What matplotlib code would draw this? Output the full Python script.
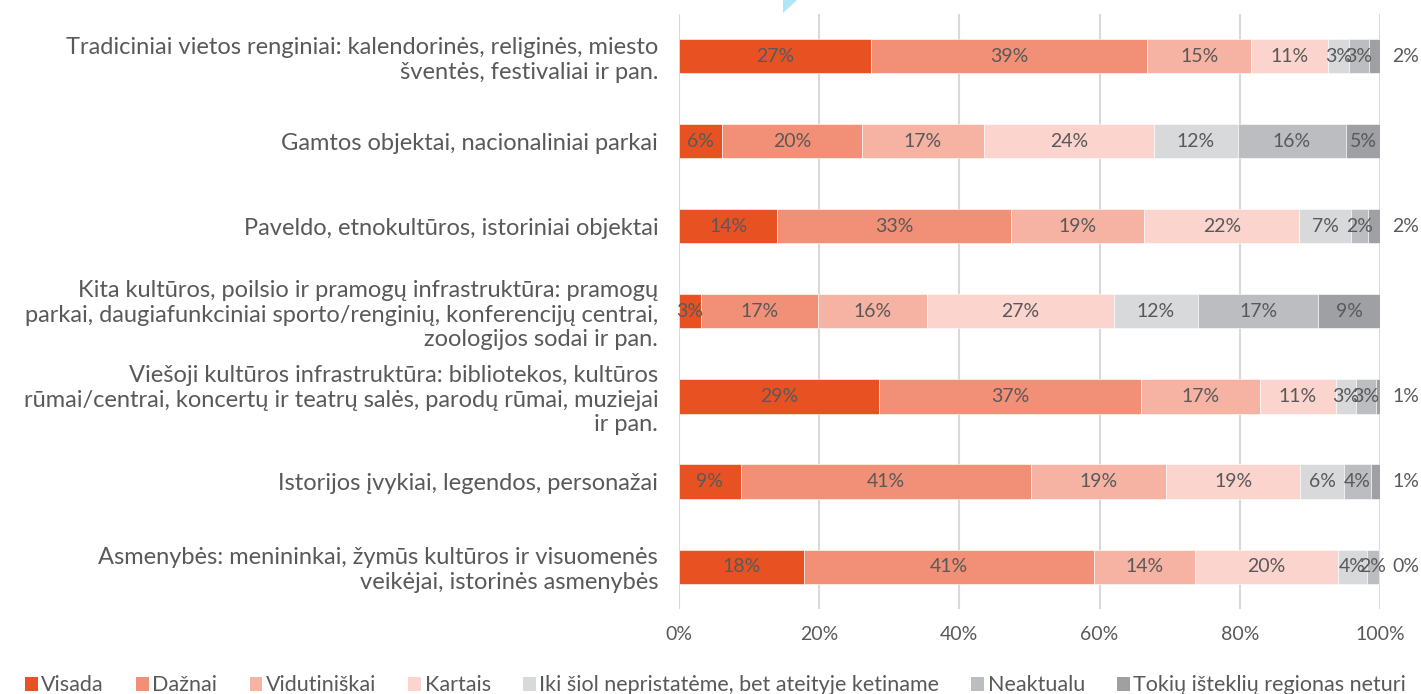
import matplotlib
matplotlib.use("Agg")
import matplotlib.pyplot as plt
from matplotlib.patches import Patch, Polygon
import numpy as np

plt.rcParams['font.family'] = ['Lato', 'DejaVu Sans']

categories = [
    "Tradiciniai vietos renginiai: kalendorinės, religinės, miesto\nšventės, festivaliai ir pan.",
    "Gamtos objektai, nacionaliniai parkai",
    "Paveldo, etnokultūros, istoriniai objektai",
    "Kita kultūros, poilsio ir pramogų infrastruktūra: pramogų\nparkai, daugiafunkciniai sporto/renginių, konferencijų centrai,\nzoologijos sodai ir pan.",
    "Viešoji kultūros infrastruktūra: bibliotekos, kultūros\nrūmai/centrai, koncertų ir teatrų salės, parodų rūmai, muziejai\nir pan.",
    "Istorijos įvykiai, legendos, personažai",
    "Asmenybės: menininkai, žymūs kultūros ir visuomenės\nveikėjai, istorinės asmenybės",
]

series_names = ["Visada", "Dažnai", "Vidutiniškai", "Kartais",
                "Iki šiol nepristatėme, bet ateityje ketiname", "Neaktualu",
                "Tokių išteklių regionas neturi"]

visada       = [27.4, 6.2, 14.0, 3.1, 28.6, 8.8, 17.8]
daznai       = [39.4, 19.9, 33.4, 16.7, 37.3, 41.4, 41.4]
vidutiniskai = [14.8, 17.4, 19.0, 15.6, 17.0, 19.3, 14.4]
kartais      = [11.0, 24.3, 22.1, 26.6, 10.8, 19.1, 20.4]
iki_siol     = [3.0, 11.9, 7.4, 12.1, 2.9, 6.3, 4.1]
neaktualu    = [2.8, 15.5, 2.4, 17.1, 2.8, 3.8, 1.7]
neturi       = [1.6, 4.8, 1.7, 8.8, 0.6, 1.3, 0.2]

xticks = [0, 20, 40, 60, 80, 100]

colors = ["#E85222", "#F19076", "#F6B3A3", "#FBD4CD", "#D8D9DB", "#BCBDC0", "#9FA0A3"]

series = [visada, daznai, vidutiniskai, kartais, iki_siol, neaktualu, neturi]
text_color = "#595959"
FS = 14

fig = plt.figure(figsize=(14.21, 6.94), dpi=100)
ax = fig.add_axes([679 / 1421, 1 - 609 / 694, 701 / 1421, 595 / 694])

n = len(categories)
y = np.arange(n)[::-1]
left = np.zeros(n)
for si, (vals, col, name) in enumerate(zip(series, colors, series_names)):
    vals = np.array(vals)
    ax.barh(y, vals, left=left, height=0.4, color=col, edgecolor='white',
            linewidth=0.4, label=name, zorder=3)
    for yi, v, l in zip(y, vals, left):
        lab = f"{round(v):.0f}%"
        if si == len(series) - 1 and v < 2.5:
            ax.annotate(lab, (l + v, yi), xytext=(9, 0), textcoords='offset points',
                        ha='left', va='center', fontsize=FS, color=text_color, zorder=4)
        else:
            ax.text(l + v / 2, yi, lab, ha='center', va='center', fontsize=FS,
                    color=text_color, zorder=4)
    left += vals

ax.set_xlim(0, 100)
ax.set_ylim(-0.5, n - 0.5)
ax.set_xticks(xticks)
ax.set_xticklabels([f"{t}%" for t in xticks])
ax.set_yticks(y)
ax.set_yticklabels(categories, linespacing=1.2, fontsize=17)
ax.tick_params(axis='both', length=0, colors=text_color)
ax.tick_params(axis='x', pad=12, labelsize=FS)
ax.tick_params(axis='y', pad=15)
ax.grid(axis='x', color='#D9D9D9', linewidth=1.5, zorder=0)
for s in ax.spines.values():
    s.set_visible(False)

handles = [Patch(facecolor=c, edgecolor='none') for c in colors]
fig.legend(handles, series_names, ncol=7, loc='lower left',
           bbox_to_anchor=(0.004, -0.03), frameon=False, fontsize=15.5,
           handlelength=0.6, handleheight=0.6, handletextpad=0.15,
           columnspacing=1.5, labelcolor=text_color)

tri = Polygon([(783 / 1421, 1.0), (797 / 1421, 1.0), (783 / 1421, 1 - 13 / 694)],
              closed=True, transform=fig.transFigure, facecolor='#AEE6F8',
              edgecolor='none')
fig.patches.append(tri)

fig.savefig("out.png", dpi=100)
